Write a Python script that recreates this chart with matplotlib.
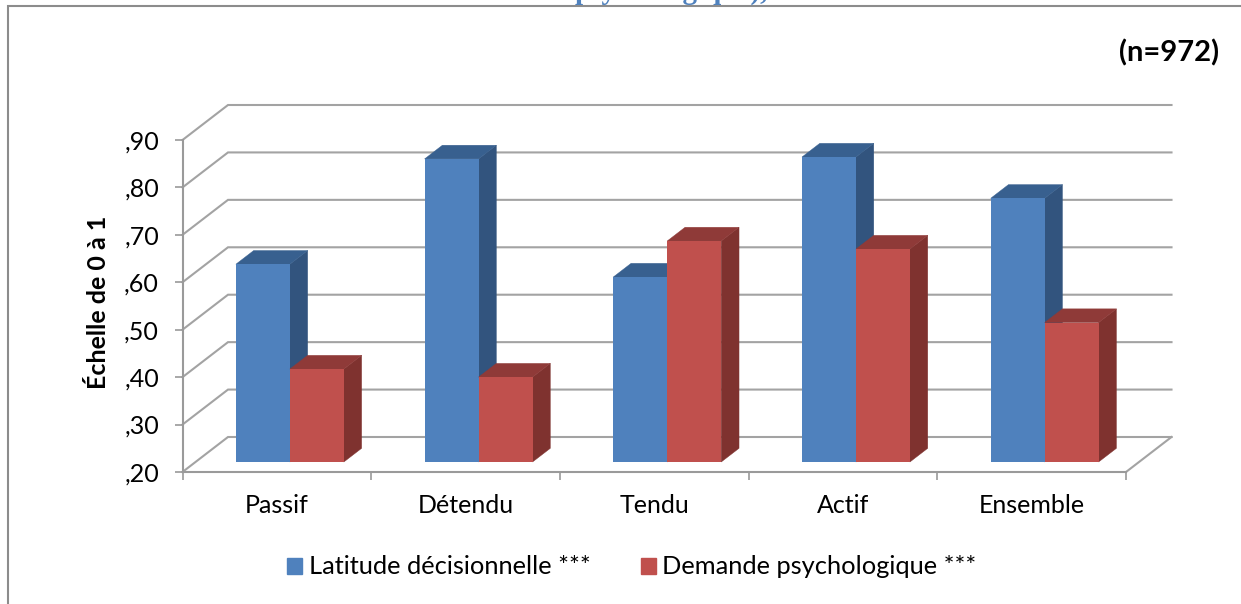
import matplotlib
matplotlib.use("Agg")
import matplotlib.pyplot as plt
from matplotlib.lines import Line2D
from matplotlib.patches import Patch

categories = ["Passif", "Détendu", "Tendu", "Actif", "Ensemble"]
latitude = [0.617, 0.839, 0.590, 0.843, 0.756]
demande = [0.396, 0.379, 0.666, 0.649, 0.494]
ytick_values = [0.2, 0.3, 0.4, 0.5, 0.6, 0.7, 0.8, 0.9]
ytick_labels = [",20", ",30", ",40", ",50", ",60", ",70", ",80", ",90"]
series_names = ["Latitude décisionnelle ***", "Demande psychologique ***"]

W, H = 1241, 604
plt.rcParams["font.family"] = ["Lato", "DejaVu Sans"]
fig = plt.figure(figsize=(W / 100, H / 100), dpi=100, facecolor="white")
L, R, B, T = 182.5, 1126, 472, 140
ax = fig.add_axes([L / W, 1 - B / H, (R - L) / W, (B - T) / H])
ax.set_xlim(0, 5)
ax.set_ylim(0.2, 0.9)
ax.patch.set_visible(False)

PX_X = 5 / (R - L)
PX_Y = 0.7 / (B - T)
BACK_X, BACK_Y = 45.5 * PX_X, 35 * PX_Y
GRID = "#a3a3a3"
AXC = "#9a9a9a"

for v in ytick_values:
    ax.plot([0, BACK_X, 5 + BACK_X], [v, v + BACK_Y, v + BACK_Y], color=GRID,
            lw=1.5, clip_on=False, zorder=1, solid_joinstyle="miter")
ax.plot([5, 5 + BACK_X], [0.2, 0.2 + BACK_Y], color=GRID, lw=1.5, clip_on=False, zorder=1)

# 3D bars
D0, D1 = 10 / 35, 23.7 / 35
BAR_W = 0.286
GAP = 0.214


def bar3d(x, v, front, top, side):
    x0 = x + D0 * BACK_X
    x1 = x0 + BAR_W
    y0 = 0.2 + D0 * BACK_Y
    y1 = y0 + v - 0.2
    ox = (D1 - D0) * BACK_X
    oy = (D1 - D0) * BACK_Y
    ax.fill([x1, x1 + ox, x1 + ox, x1], [y0, y0 + oy, y1 + oy, y1], color=side, lw=0.3, clip_on=False, zorder=3)
    ax.fill([x0, x0 + ox, x1 + ox, x1], [y1, y1 + oy, y1 + oy, y1], color=top, lw=0.3, clip_on=False, zorder=3)
    ax.bar(x0, v - 0.2, BAR_W, bottom=y0, align="edge", color=front, lw=0, clip_on=False, zorder=3)


BLUE = ("#4f81bd", "#38608f", "#32547e")
RED = ("#c0504d", "#8f3a38", "#7f322f")
for i in range(len(categories)):
    bar3d(i + GAP, latitude[i], *BLUE)
    bar3d(i + GAP + BAR_W, demande[i], *RED)

# axes
for s in ("top", "right"):
    ax.spines[s].set_visible(False)
for s in ("left", "bottom"):
    ax.spines[s].set_color(AXC)
    ax.spines[s].set_linewidth(1.5)
    ax.spines[s].set_zorder(4)
ax.set_yticks(ytick_values, ytick_labels)
ax.set_xticks(range(6), [""] * 6)
ax.set_xticks([i + 0.5 for i in range(5)], categories, minor=True)
ax.tick_params(axis="y", length=6, width=1.2, color=AXC, labelsize=18, pad=11, labelcolor="black")
ax.tick_params(axis="x", which="major", length=6, width=1.2, color=AXC)
ax.tick_params(axis="x", which="minor", length=0, labelsize=18, pad=16, labelcolor="black")

fig.text(99 / W, 1 - 302 / H, "Échelle de 0 à 1", rotation=90, ha="center", va="center",
         fontsize=18, fontweight="bold", color="black")
fig.text(1219 / W, 1 - 53 / H, "(n=972)", ha="right", va="center", fontsize=21,
         fontweight="bold", color="black")

# clipped title remnant
fig.text(575 / W, 1 + 1 / H, "psychologique),", ha="left", va="baseline", fontsize=21,
         fontweight="bold", color="#4f81bd", family="Liberation Serif")

# frame
fig.add_artist(Line2D([8 / W, 8 / W, 1], [0, 1 - 6 / H, 1 - 6 / H], color="#8c8c8c", lw=1.5,
                      solid_joinstyle="miter"))

handles = [Patch(color=BLUE[0]), Patch(color=RED[0])]
fig.legend(handles, series_names, ncols=2, loc="center", bbox_to_anchor=(632 / W, 1 - 567 / H),
           frameon=False, fontsize=18.3, handlelength=0.59, handleheight=0.59, handletextpad=0.24,
           columnspacing=2.0, borderpad=0, labelcolor="black")

fig.savefig("out.png", dpi=100, facecolor="white")
